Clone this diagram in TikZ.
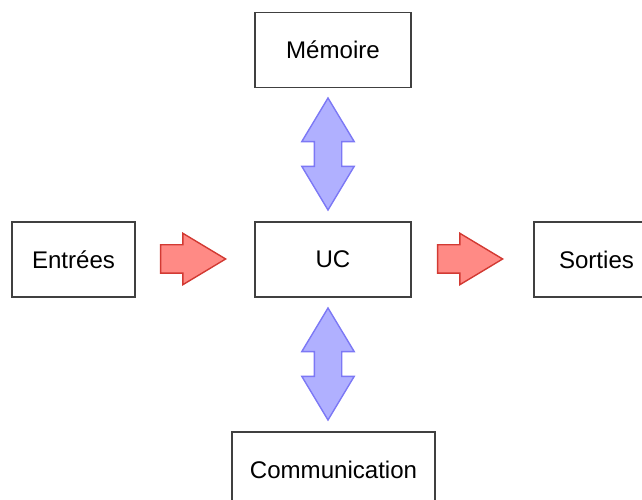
\documentclass[tikz,border=0pt]{standalone}
\usepackage{fontspec}
\setmainfont{Liberation Sans}
\usetikzlibrary{shapes,arrows,positioning}
\definecolor{flechered}{HTML}{FF8A85}
\definecolor{flechereddraw}{HTML}{D23A33}
\definecolor{flecheblue}{HTML}{B0B0FF}
\definecolor{flechebluedraw}{HTML}{7C78F5}
\tikzstyle{bloc}=[rectangle,draw=black!75,line width=1.1pt,fill=white,
  minimum height=1.5cm,inner sep=0pt]
\tikzstyle{fleche}=[single arrow,draw=flechereddraw,fill=flechered,line width=.8pt,
  minimum height=1.3cm,inner xsep=0pt,inner ysep=.27cm,anchor=tip,
  single arrow head extend=.23cm,single arrow tip angle=62,single arrow head indent=0pt]
\tikzstyle{echange}=[double arrow,draw=flechebluedraw,fill=flecheblue,line width=.8pt,
  minimum height=2.24cm,inner xsep=0pt,inner ysep=.26cm,
  double arrow head extend=.25cm,double arrow tip angle=62,rotate=90]

\begin{document}
\begin{tikzpicture}[font=\fontsize{13.7}{16}\selectfont]
	\clip (0,0) rectangle (12.84,10);
	\node[bloc,minimum width=3.12cm] (uc) at (6.66,4.81) {UC};
	\node[bloc,minimum width=3.12cm] (mem) at (6.66,9.0) {Mémoire};
	\node[bloc,minimum width=2.46cm] (ent) at (1.47,4.81) {Entrées};
	\node[bloc,minimum width=2.5cm,anchor=west] (sor) at (10.66,4.81) {Sorties};
	\node[bloc,minimum width=4.06cm,anchor=north] (com) at (6.67,1.38) {Communication};

	\node[fleche] (f1) at (4.54,4.82) {};
	\node[fleche] (f2) at (10.08,4.82) {};
	\node[echange] (e1) at (6.56,6.92) {};
	\node[echange] (e2) at (6.56,2.72) {};
\end{tikzpicture}
\end{document}
